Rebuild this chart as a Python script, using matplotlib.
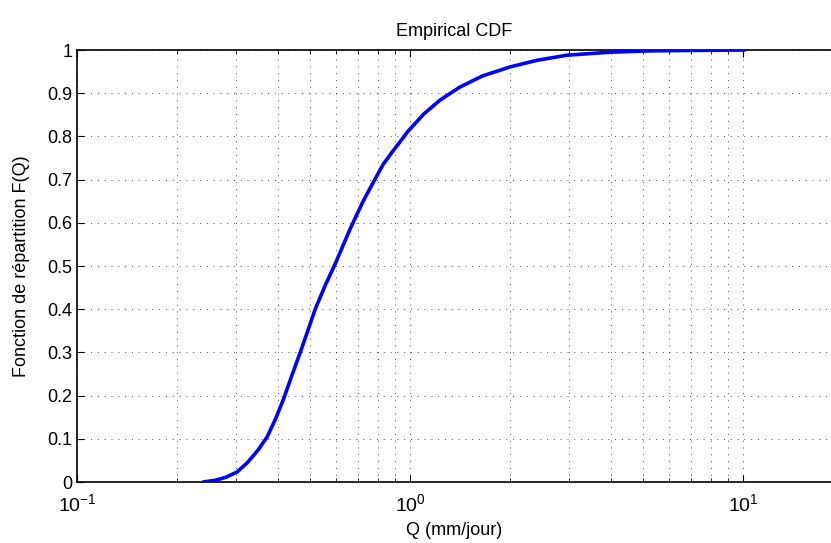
import numpy as np
import matplotlib
matplotlib.use("Agg")
import matplotlib.pyplot as plt

plt.rcParams['font.family'] = ['Liberation Sans', 'DejaVu Sans']
plt.rcParams['mathtext.fontset'] = 'custom'
plt.rcParams['mathtext.rm'] = 'Liberation Sans'
plt.rcParams['mathtext.it'] = 'Liberation Sans'

# courbe (Q en mm/jour, F(Q))
q = [0.239, 0.26, 0.28, 0.302, 0.324, 0.348, 0.372, 0.394, 0.416, 0.44, 0.468,
     0.493, 0.519, 0.556, 0.596, 0.66, 0.723, 0.786, 0.83, 0.88, 0.93, 0.986,
     1.1, 1.23, 1.41, 1.65, 2.0, 2.4, 2.96, 4.0, 5.25, 7.0, 10.1]
F = [0.0, 0.004, 0.011, 0.023, 0.044, 0.072, 0.104, 0.145, 0.19, 0.243, 0.30,
     0.350, 0.400, 0.455, 0.505, 0.585, 0.650, 0.702, 0.735, 0.762, 0.786, 0.812,
     0.852, 0.884, 0.914, 0.94, 0.961, 0.976, 0.988, 0.995, 0.998, 0.999, 1.0]

fig = plt.figure(figsize=(8.31, 5.43), dpi=100)
ax = fig.add_axes([0.0927, 0.1123, 0.9073, 0.7956])

ax.plot(q, F, color='blue', lw=2.6, solid_capstyle='round', zorder=3)

ax.set_xscale('log')
ax.set_xlim(0.1, 10 ** 1.264)
ax.set_ylim(0, 1)
ax.set_yticks(np.arange(0, 1.01, 0.1))
ax.set_yticklabels(['0', '0.1', '0.2', '0.3', '0.4', '0.5', '0.6', '0.7', '0.8', '0.9', '1'])

ax.grid(True, which='major', color='k', linestyle=(0, (1, 6)), lw=0.7, alpha=0.7)
ax.grid(True, which='minor', axis='x', color='k', linestyle=(0, (1, 6)), lw=0.7, alpha=0.7)

ax.spines['right'].set_visible(False)
for s in ['left', 'bottom', 'top']:
    ax.spines[s].set_linewidth(1.2)
ax.tick_params(which='both', direction='in', top=True, right=False, labelsize=13)
ax.tick_params(axis='x', which='major', labelsize=14, pad=8)
ax.tick_params(which='major', length=5)
ax.tick_params(which='minor', length=3)

ax.set_title('Empirical CDF', fontsize=13, pad=10)
ax.set_xlabel('Q (mm/jour)', fontsize=13, labelpad=5)
ax.set_ylabel('Fonction de répartition F(Q)', fontsize=13, labelpad=12)

plt.savefig('out.png', dpi=100)
